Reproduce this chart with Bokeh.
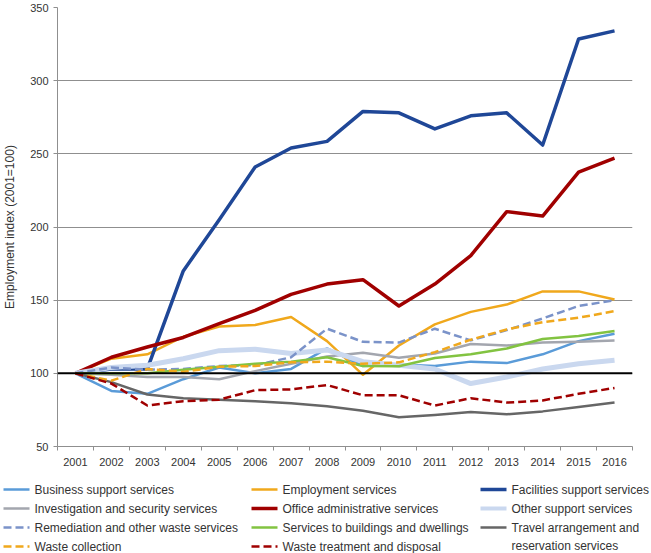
from bokeh.plotting import figure
from bokeh.layouts import column
from bokeh.models import Range1d, FixedTicker, Span
from bokeh.core.properties import value
from bokeh.embed import file_html
from bokeh.resources import INLINE

# ---------------- data ----------------
years = [str(y) for y in range(2001, 2017)]
BASE = 100

business = [100, 88, 86, 96, 104, 100, 103, 117, 105, 106, 105, 108, 107, 113, 122, 127]
employment = [100, 110, 113, 125, 132, 133, 138.5, 122, 99, 119, 133.5, 142, 147, 156, 156, 150.5]
facilities = [100, 103, 103, 170, 205, 241, 254, 258.5, 279, 278, 267, 276, 278, 256, 328.5, 334]
investigation = [100, 99, 97.5, 97.5, 96, 101.5, 106.5, 111.5, 114, 110.7, 113.5, 120, 119, 121, 121.5, 122.5]
office = [100, 111, 118, 124.5, 134, 143, 154, 161, 164, 146, 161, 180.5, 210.5, 207.5, 237.5, 247]
other_support = [100, 104, 105.5, 110, 115.5, 116.5, 113.5, 116, 108, 105.5, 103, 93, 97.5, 103, 106.5, 109]
remediation = [100, 104, 102.5, 103, 105, 105.5, 111, 130.5, 121.5, 121, 130.5, 122.5, 129.5, 137.5, 146, 150]
buildings = [100, 100, 100, 102.5, 104.5, 106.5, 108, 111, 105, 104.8, 110.5, 113, 117, 123.5, 125.5, 129]
travel = [100, 94, 85.5, 83, 82, 81, 79.5, 77.5, 74.5, 70, 71.5, 73.5, 72, 74, 77, 80]
waste_collection = [100, 95, 103, 101, 104.5, 105, 107.5, 108, 106.5, 107.5, 114.5, 123, 130, 135, 138, 142.5]
waste_treatment = [100, 93, 78, 81, 82, 88.5, 89, 92, 85, 85, 78, 83, 80, 81.5, 86, 90]

y_ticks = [50, 100, 150, 200, 250, 300, 350]

series = [
    ("Business support services", business, "#5a9bd8", 2.5, "solid"),
    ("Employment services", employment, "#f0a81c", 2.5, "solid"),
    ("Facilities support services", facilities, "#1f4797", 3.5, "solid"),
    ("Investigation and security services", investigation, "#a3a6ae", 2.5, "solid"),
    ("Office administrative services", office, "#a00000", 3.5, "solid"),
    ("Other support services", other_support, "#cad8ef", 5, "solid"),
    ("Remediation and other waste services", remediation, "#7b93c9", 2.5, "8 4"),
    ("Services to buildings and dwellings", buildings, "#82c341", 2.5, "solid"),
    ("Travel arrangement and\nreservation services", travel, "#666666", 2.5, "solid"),
    ("Waste collection", waste_collection, "#f0a81c", 2.5, "8 4"),
    ("Waste treatment and disposal", waste_treatment, "#a00000", 2.5, "8 4"),
]

FONT = "Liberation Sans"
TXT = "#333333"
GRID = "#8f8f8f"

W = 651
MAIN_H, LEG_H = 471, 82

xs = list(range(len(years)))


def no_align(fig):
    if "frame_align" in fig.properties():
        fig.frame_align = False


p = figure(width=W, height=MAIN_H, x_range=Range1d(-0.5, len(years) - 0.5),
           y_range=Range1d(y_ticks[0], y_ticks[-1]),
           output_backend="svg", toolbar_location=None,
           min_border_left=55, min_border_right=19, min_border_top=7, min_border_bottom=25)
no_align(p)
p.outline_line_color = None
p.xgrid.visible = False
p.ygrid.ticker = FixedTicker(ticks=y_ticks)
p.ygrid.grid_line_color = GRID
p.ygrid.grid_line_width = 1

p.yaxis.ticker = FixedTicker(ticks=y_ticks)
p.yaxis.axis_line_color = GRID
p.yaxis.major_tick_line_color = GRID
p.yaxis.major_tick_out = 4
p.yaxis.major_tick_in = 0
p.yaxis.minor_tick_line_color = None
p.yaxis.major_label_standoff = 5
p.yaxis.axis_label = "Employment index (2001=100)"
p.yaxis.axis_label_text_font_style = "normal"
p.yaxis.axis_label_text_font_size = "12px"
p.yaxis.axis_label_text_font = FONT
p.yaxis.axis_label_text_color = TXT
p.yaxis.axis_label_standoff = 10

p.xaxis.ticker = FixedTicker(ticks=xs, minor_ticks=[i - 0.5 for i in range(len(years) + 1)])
p.xaxis.major_label_overrides = {i: y for i, y in zip(xs, years)}
p.xaxis.axis_line_color = GRID
p.xaxis.major_tick_line_color = None
p.xaxis.major_tick_out = 0
p.xaxis.major_tick_in = 0
p.xaxis.minor_tick_line_color = GRID
p.xaxis.minor_tick_out = 4
p.xaxis.minor_tick_in = 0
p.xaxis.major_label_standoff = 7

for ax in (p.xaxis, p.yaxis):
    ax.major_label_text_font = FONT
    ax.major_label_text_font_size = "11px"
    ax.major_label_text_color = TXT

p.add_layout(Span(location=BASE, dimension="width", line_color="black", line_width=2))

for name, vals, color, w, dash in series:
    p.line(xs, vals, line_color=color, line_width=w, line_dash=dash, line_join="round")

# ---------------- legend strip (3 columns) ----------------
lg = figure(width=W, height=LEG_H, x_range=Range1d(0, W), y_range=Range1d(LEG_H, 0),
            output_backend="svg", toolbar_location=None,
            x_axis_location=None, y_axis_location=None,
            min_border_left=0, min_border_right=0, min_border_top=0, min_border_bottom=0)
no_align(lg)
lg.outline_line_color = None
lg.grid.visible = False

col_x = [3, 251, 480]
row_y = [18, 37, 56, 75]
for k, (name, vals, color, w, dash) in enumerate(series):
    r, c = divmod(k, 3)
    x0 = col_x[c]
    y0 = row_y[r]
    lg.line([x0, x0 + 26], [y0, y0], line_color=color, line_width=min(w, 4), line_dash=dash)
    for j, part in enumerate(name.split("\n")):
        lg.text([x0 + 31], [row_y[r + j] - (1 if j else 0)], text=[part], text_font=value(FONT),
                text_font_size="12px", text_color=TXT, text_baseline="middle", text_align="left")

layout = column(p, lg, spacing=0)
open("out.html", "w").write(file_html(layout, INLINE))
